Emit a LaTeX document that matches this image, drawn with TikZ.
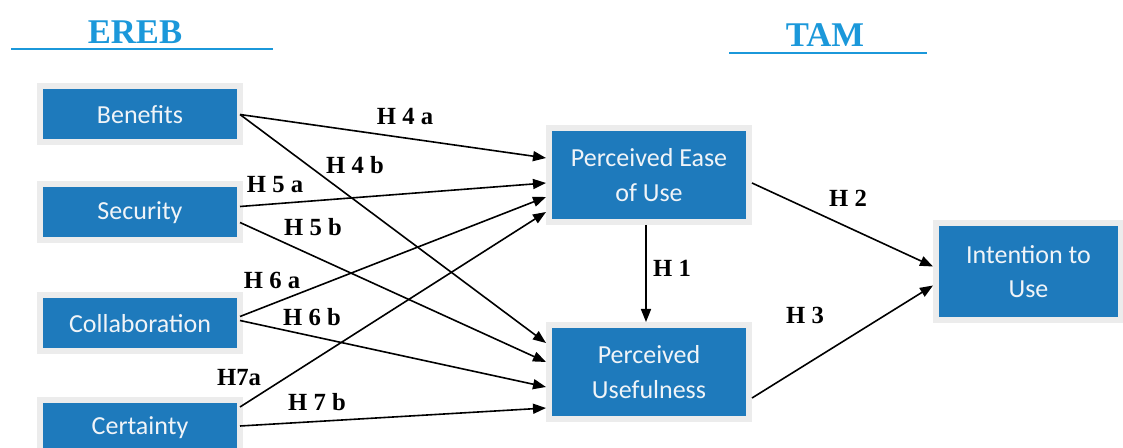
\documentclass[tikz,border=0pt]{standalone}
\usepackage{fontspec}
\setmainfont{Liberation Serif}
\newfontfamily\boxfont{Carlito}
\usepackage{tikz}
\usetikzlibrary{arrows.meta, positioning, calc}
\definecolor{boxblue}{RGB}{30,122,188}
\definecolor{hdrblue}{RGB}{27,152,218}
\definecolor{boxgrey}{RGB}{236,236,236}
\definecolor{boxtext}{RGB}{240,244,248}

\begin{document}
\begin{tikzpicture}[x=0.75pt, y=-0.75pt,
    every node/.style={inner sep=0pt},
    construct/.style={fill=boxblue, text=boxtext, align=center,
        font=\boxfont\fontsize{19.5}{26}\selectfont,
        preaction={draw=boxgrey, line width=9pt},
        outer sep=2.25pt, minimum width=145.5pt, minimum height=37.5pt},
    bigbox/.style={construct, outer sep=4.5pt, minimum height=66pt},
    hyp/.style={font=\bfseries\fontsize{18.5}{20}\selectfont},
    hdr/.style={text=hdrblue, font=\bfseries\fontsize{26}{28}\selectfont},
    hdrline/.style={hdrblue, line width=1.6pt},
    arr/.style={-{Triangle[length=9.75pt,width=7.5pt]}, line width=1.2pt}]

    \useasboundingbox (0,0) rectangle (1123,448);

    % headers
    \node[hdr] (ereb) at (135,32) {EREB};
    \draw[hdrline] (11,49) -- (273,49);
    \node[hdr] (tam) at (825,35) {TAM};
    \draw[hdrline] (729,53) -- (927,53);

    % EREB constructs
    \node[construct] (ben) at (140,114.5) {Benefits};
    \node[construct] (sec) at (140,212.5) {Security};
    \node[construct] (col) at (140,323.5) {Collaboration};
    \node[construct] (cer) at (140,428) {Certainty};

    % TAM constructs
    \node[bigbox] (peou) at (649,175) {Perceived Ease\\of Use};
    \node[bigbox] (pu) at (649,372) {Perceived\\Usefulness};
    \node[bigbox, minimum width=134.25pt, minimum height=68.25pt] (itu) at (1028.5,271.5) {\raisebox{3pt}{\parbox{134pt}{\centering Intention to\\Use}}};

    % to PEOU
    \draw[arr] (ben.east) -- ($(peou.west)+(0,-17)$);
    \draw[arr] ($(sec.east)+(0,-6)$) -- ($(peou.west)+(0,8)$);
    \draw[arr] ($(col.east)+(0,-7)$) -- ($(peou.west)+(0,22)$);
    \draw[arr] ($(cer.east)+(0,-21)$) -- ($(peou.west)+(0,37)$);
    % to PU
    \draw[arr] (ben.east) -- ($(pu.west)+(0,-29)$);
    \draw[arr] ($(sec.east)+(0,10)$) -- ($(pu.west)+(0,-10)$);
    \draw[arr] ($(col.east)+(0,-3)$) -- ($(pu.west)+(0,15)$);
    \draw[arr] ($(cer.east)+(0,-2)$) -- ($(pu.west)+(0,36)$);
    % TAM paths
    \draw[arr] ([xshift=-2.25pt]peou.south) -- ([xshift=-2.25pt]pu.north);
    \draw[arr] ($(peou.east)+(0,8)$) -- ($(itu.west)+(0,-5)$);
    \draw[arr] ($(pu.east)+(0,26)$) -- ($(itu.west)+(0,14)$);

    % hypotheses
    \node[hyp] (h4a) at (405,117) {H 4 a};
    \node[hyp] (h4b) at (355,165) {H 4 b};
    \node[hyp] (h5a) at (275,185) {H 5 a};
    \node[hyp] (h5b) at (313,227) {H 5 b};
    \node[hyp] (h6a) at (272,280) {H 6 a};
    \node[hyp] (h6b) at (312,317) {H 6 b};
    \node[hyp] (h7a) at (239,378) {H7a};
    \node[hyp] (h7b) at (317,402) {H 7 b};
    \node[hyp] (h1) at (672,268) {H 1};
    \node[hyp] (h2) at (848,198) {H 2};
    \node[hyp] (h3) at (805,315) {H 3};

\end{tikzpicture}
\end{document}
